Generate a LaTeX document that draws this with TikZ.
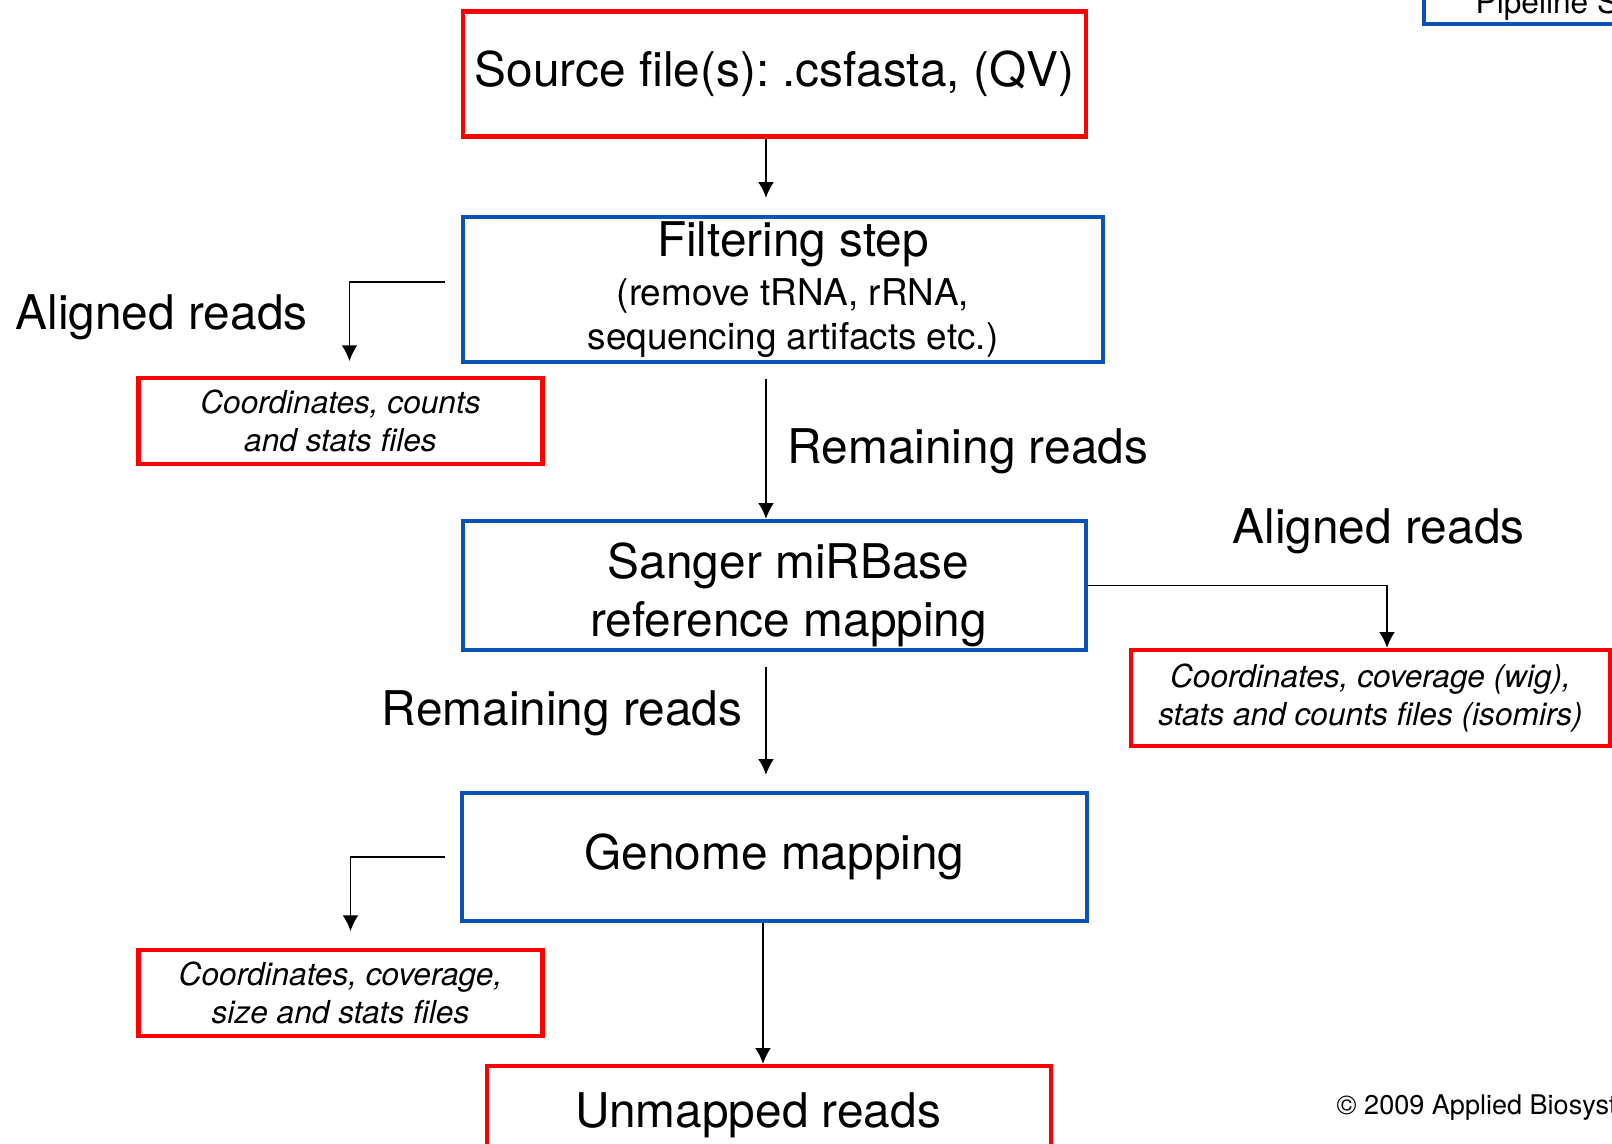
\documentclass[tikz,border=0pt]{standalone}
\usepackage{fontspec}
\setmainfont{TeX Gyre Heros}
\usepackage{tikz}
\usetikzlibrary{arrows.meta}
\usetikzlibrary{positioning}
\frenchspacing
\definecolor{abired}{RGB}{255,0,0}
\definecolor{abiblue}{RGB}{8,84,180}
\tikzset{font={\fontsize{13.6pt}{16.5}\selectfont}}
\tikzset{
redbox/.style={draw=abired,line width=1.2pt,inner xsep=2pt,align=center},
bluebox/.style={draw=abiblue,line width=1.2pt,inner xsep=2pt,align=center},
filebox/.style={redbox,font={\fontsize{9pt}{10.8}\selectfont\itshape}},
boxtext/.style={align=center,inner sep=0pt},
arr/.style={-{Latex[length=4.5pt,width=4.5pt]},line width=0.5pt},
lbl/.style={inner sep=0pt}
}
\newcommand{\subtxt}{\fontsize{10.5pt}{12.5}\selectfont}

\begin{document}
\begin{tikzpicture}
\useasboundingbox (0,0) rectangle (16.12,11.44);

%main column
\node[redbox,minimum width=6.23cm,minimum height=1.25cm] (source) at (7.745,10.70) {Source file(s): .csfasta, (QV)};
\node[bluebox,minimum width=6.40cm,minimum height=1.45cm,
  label={[boxtext,font={\fontsize{13.6pt}{12.5}\selectfont},xshift=1mm,yshift=0mm]center:Filtering step\\[1.6pt]
  \subtxt (remove tRNA, rRNA,\\ \subtxt sequencing artifacts etc.)}] (filt) at (7.83,8.545) {};
\node[bluebox,minimum width=6.23cm,minimum height=1.29cm,
  label={[boxtext,xshift=1.4mm,yshift=-0.9mm]center:Sanger miRBase\\reference mapping}] (sanger) at (7.745,5.585) {};
\node[bluebox,minimum width=6.25cm,minimum height=1.28cm] (genome) at (7.745,2.87) {Genome mapping};
\node[redbox,minimum width=5.64cm,minimum height=0.88cm,
  label={[boxtext,xshift=-1.1mm,yshift=-0.5mm]center:Unmapped reads}] (unmapped) at (7.69,0.34) {};

%output files
\node[filebox,minimum width=4.04cm,minimum height=0.80cm] (counts) at (3.405,7.23) {Coordinates, counts\\and stats files};
\node[filebox,minimum width=4.79cm,minimum height=0.96cm] (mirout) at (13.705,4.46) {Coordinates, coverage (wig),\\stats and counts files (isomirs)};
\node[filebox,minimum width=4.04cm,minimum height=0.80cm] (coverage) at (3.405,1.51) {Coordinates, coverage,\\size and stats files};

%labels
\node[lbl,anchor=west] (alignL) at (0.15,8.27) {Aligned reads};
\node[lbl,anchor=west] (remainR) at (7.87,6.93) {Remaining reads};
\node[lbl,anchor=west] (alignR) at (12.32,6.13) {Aligned reads};
\node[lbl,anchor=east] (remainL) at (7.43,4.31) {Remaining reads};

%connectors
\draw[arr] ([xshift=-0.85mm]source.south) -- ([xshift=-1.7mm,yshift=1.7mm]filt.north);
\draw[arr] ([xshift=-1.7mm,yshift=-1.5mm]filt.south) -- ([xshift=-0.85mm]sanger.north);
\draw[arr] ([xshift=-0.85mm,yshift=-1.5mm]sanger.south) -- ([xshift=-0.85mm,yshift=1.6mm]genome.north);
\draw[arr] ([xshift=-1.15mm]genome.south) -- ([xshift=-0.6mm]unmapped.north);
\draw[arr] ([xshift=-1.6mm,yshift=0.75mm]filt.west) -| ([xshift=0.9mm,yshift=1.5mm]counts.north);
\draw[arr] (sanger.east) -| ([xshift=1.65mm]mirout.north);
\draw[arr] ([xshift=-1.5mm]genome.west) -| ([xshift=1mm,yshift=1.7mm]coverage.north);

%slide leftovers
\node[draw=abiblue,line width=1.2pt,minimum width=2.9cm,minimum height=0.8cm,anchor=south west] (pipe) at (14.22,11.18) {};
\node[lbl,anchor=base west,font={\fontsize{9pt}{11}\selectfont}] (pipetxt) at (14.75,11.30) {Pipeline S};
\node[lbl,anchor=west,font={\fontsize{7.7pt}{9}\selectfont}] (copy) at (13.36,0.36) {© 2009 Applied Biosyst};

\end{tikzpicture}
\end{document}
